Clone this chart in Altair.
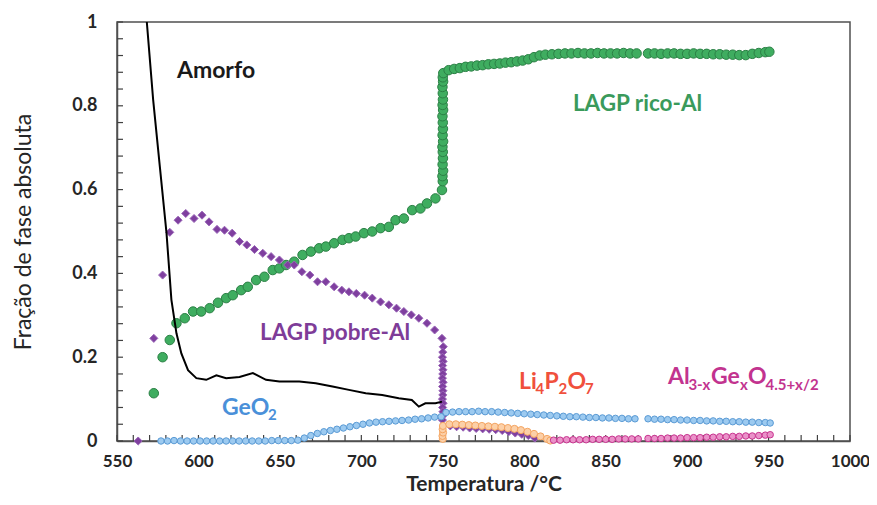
import altair as alt
import pandas as pd

# ---------------- data ----------------
amorfo_T = [568.2, 572.2, 576.3, 580.4, 583.4, 586.5, 589.5, 593.6, 598.7, 604.8, 611.0, 617.0,
            625.2, 633.4, 641.5, 649.7, 661.9, 672.0, 682.3, 692.4, 702.7, 712.8, 723.0, 731.0,
            735.3, 739.3, 745.5, 749.5]
amorfo_y = [1.005, 0.814, 0.655, 0.496, 0.337, 0.257, 0.209, 0.169, 0.150, 0.146, 0.157, 0.150,
            0.153, 0.162, 0.146, 0.142, 0.142, 0.138, 0.130, 0.122, 0.114, 0.110, 0.102, 0.098,
            0.082, 0.090, 0.090, 0.094]

rico_T = [572.6, 578.0, 582.4, 586.5, 591.6, 596.7, 601.7, 606.9, 612.0, 617.0, 621.1, 626.2,
          630.3, 635.4, 640.5, 645.6, 649.7, 653.8, 658.8, 663.9, 669.0, 674.1, 678.2, 683.3,
          688.4, 692.4, 696.5, 701.6, 706.7, 711.8, 716.9, 721.0, 726.1, 731.2, 736.3, 740.3,
          745.5, 749.5,
          750.0, 749.8, 750.2, 749.9, 750.1, 750.0, 749.8, 750.2, 749.9, 750.1, 750.0, 749.8,
          750.2, 749.9, 750.1, 750.0, 749.8, 750.2, 750.0, 750.3,
          753.6, 757.0, 760.5, 764.0, 767.5, 771.0, 774.5, 778.0, 781.5, 785.0, 788.5, 792.0,
          795.5, 799.0, 802.5, 806.0, 809.5, 813.0, 817.0, 821.0, 825.0, 829.0, 833.0, 837.0,
          841.0, 845.0, 849.0, 853.0, 857.0, 861.0, 865.0, 869.0,
          876.0, 880.0, 884.0, 888.0, 892.0, 896.0, 900.0, 904.0, 908.0, 912.0, 916.0, 920.0,
          924.0, 928.0, 932.0, 936.0, 940.0, 944.0, 948.0, 950.5]
rico_y = [0.114, 0.200, 0.241, 0.281, 0.293, 0.309, 0.309, 0.317, 0.330, 0.341, 0.348, 0.360,
          0.368, 0.384, 0.392, 0.408, 0.412, 0.420, 0.428, 0.444, 0.452, 0.460, 0.464, 0.472,
          0.480, 0.484, 0.488, 0.496, 0.500, 0.508, 0.511, 0.527, 0.531, 0.551, 0.555, 0.567,
          0.579, 0.599,
          0.620, 0.632, 0.645, 0.660, 0.675, 0.690, 0.702, 0.715, 0.730, 0.745, 0.760, 0.775,
          0.790, 0.802, 0.815, 0.830, 0.845, 0.858, 0.868, 0.878,
          0.885, 0.888, 0.890, 0.893, 0.894, 0.896, 0.897, 0.899, 0.900, 0.901, 0.903, 0.904,
          0.906, 0.908, 0.911, 0.916, 0.920, 0.922, 0.923, 0.924, 0.925, 0.925, 0.926, 0.925,
          0.925, 0.926, 0.925, 0.925, 0.925, 0.926, 0.925, 0.925,
          0.925, 0.925, 0.924, 0.925, 0.925, 0.924, 0.924, 0.925, 0.924, 0.924, 0.923, 0.923,
          0.922, 0.922, 0.921, 0.921, 0.924, 0.926, 0.928, 0.929]

pobre_T = [563.0, 572.6, 578.0, 582.4, 587.5, 592.2, 597.3, 602.2, 606.5, 611.4, 616.0, 620.7,
           625.2, 629.7, 634.4, 639.5, 644.6, 649.7, 654.8, 658.8, 663.5, 668.4, 673.1, 678.2,
           683.3, 688.0, 692.4, 696.9, 702.0, 706.7, 711.8, 716.9, 721.6, 726.1, 730.7, 735.3,
           740.3, 745.0, 749.5, 750.3,
           750.0, 749.8, 750.2, 749.9, 750.1, 750.0, 749.8, 750.2, 749.9, 750.1, 750.0, 749.8,
           750.2, 749.9, 750.1, 750.0, 749.8,
           754.6, 758.5, 762.5, 766.5, 770.5, 774.5, 778.5, 782.5, 786.5, 790.5, 794.5, 798.5,
           802.5, 806.5]
pobre_y = [0.000, 0.245, 0.396, 0.498, 0.527, 0.543, 0.531, 0.539, 0.523, 0.505, 0.503, 0.496,
           0.476, 0.468, 0.457, 0.448, 0.440, 0.432, 0.420, 0.420, 0.404, 0.396, 0.380, 0.380,
           0.368, 0.360, 0.356, 0.352, 0.348, 0.341, 0.332, 0.325, 0.317, 0.309, 0.301, 0.293,
           0.281, 0.265, 0.245, 0.225,
           0.212, 0.200, 0.190, 0.180, 0.170, 0.160, 0.150, 0.140, 0.130, 0.120, 0.110, 0.100,
           0.090, 0.080, 0.070, 0.060, 0.050,
           0.036, 0.034, 0.033, 0.031, 0.030, 0.029, 0.028, 0.027, 0.025, 0.022, 0.019, 0.016,
           0.013, 0.007]

geo2_T = [577, 581, 585, 589, 593, 597, 601, 605, 609, 613, 617, 621, 625, 629, 633, 637, 641,
          645, 649, 653, 657, 661, 665, 669, 673, 677, 681, 685, 689, 693, 697, 701, 705, 709,
          713, 717, 721, 725, 729, 733, 737, 741, 745, 749,
          752, 756, 760, 764, 768, 772, 776, 780, 784, 788, 792, 796, 800, 804, 808, 812, 816,
          820, 824, 828, 832, 836, 840, 844, 848, 852, 856, 860, 864, 868,
          876, 880, 884, 888, 892, 896, 900, 904, 908, 912, 916, 920, 924, 928, 932, 936, 940,
          944, 948, 951]
geo2_y = [0.000, 0.000, 0.001, 0.000, 0.000, 0.000, 0.000, 0.000, 0.000, 0.000, 0.000, 0.000,
          0.000, 0.000, 0.000, 0.000, 0.000, 0.001, 0.001, 0.001, 0.001, 0.002, 0.007, 0.013,
          0.018, 0.022, 0.025, 0.028, 0.031, 0.034, 0.037, 0.040, 0.043, 0.045, 0.046, 0.047,
          0.048, 0.049, 0.050, 0.052, 0.053, 0.055, 0.057, 0.058,
          0.068, 0.069, 0.070, 0.070, 0.070, 0.071, 0.070, 0.070, 0.069, 0.068, 0.067, 0.066,
          0.065, 0.064, 0.063, 0.062, 0.061, 0.060, 0.059, 0.058, 0.058, 0.057, 0.056, 0.056,
          0.055, 0.055, 0.054, 0.054, 0.053, 0.053,
          0.053, 0.052, 0.052, 0.051, 0.051, 0.050, 0.050, 0.049, 0.049, 0.048, 0.048, 0.047,
          0.047, 0.046, 0.046, 0.045, 0.045, 0.044, 0.044, 0.043]

li_T = [750.0, 749.8, 750.2, 749.9, 750.1,
        754.0, 758.0, 762.0, 766.0, 770.0, 774.0, 778.0, 782.0, 786.0, 790.0, 794.0, 798.0,
        802.0, 806.0, 810.0, 814.0, 816.0]
li_y = [0.005, 0.012, 0.020, 0.028, 0.036,
        0.040, 0.040, 0.039, 0.038, 0.037, 0.036, 0.035, 0.034, 0.033, 0.031, 0.029, 0.026,
        0.022, 0.017, 0.011, 0.005, 0.001]

al_T = [818, 822, 826, 830, 834, 838, 842, 846, 850, 854, 858, 862, 866, 870,
        876, 880, 884, 888, 892, 896, 900, 904, 908, 912, 916, 920, 924, 928, 932, 936, 940,
        944, 948, 951]
al_y = [0.002, 0.002, 0.003, 0.003, 0.003, 0.003, 0.004, 0.004, 0.004, 0.004, 0.005, 0.005,
        0.005, 0.005,
        0.006, 0.006, 0.006, 0.007, 0.007, 0.007, 0.008, 0.008, 0.008, 0.009, 0.009, 0.010,
        0.010, 0.011, 0.011, 0.012, 0.012, 0.013, 0.014, 0.015]

x_labels = [550, 600, 650, 700, 750, 800, 850, 900, 950, 1000]
y_labels = [0, 0.2, 0.4, 0.6, 0.8, 1]
x_minor = list(range(550, 1001, 10))
y_minor = [round(i * 0.04, 2) for i in range(26)]

# annotation pieces: text, x (°C), y (fraction), font size, colour
ann_text = ["Amorfo", "LAGP rico-Al", "LAGP pobre-Al",
            "GeO", "2",
            "Li", "4", "P", "2", "O", "7",
            "Al", "3-x", "Ge", "x", "O", "4.5+x/2"]
ann_T = [586.8, 829.9, 637.8,
         614.5, 642.7,
         796.8, 806.9, 812.4, 821.0, 826.6, 837.3,
         888.3, 900.8, 914.6, 932.5, 937.4, 948.1]
ann_y = [0.866, 0.788, 0.241,
         0.062, 0.050,
         0.124, 0.112, 0.124, 0.112, 0.124, 0.112,
         0.136, 0.122, 0.136, 0.122, 0.136, 0.122]
ann_size = [23, 22.5, 22.5,
            23, 15,
            23, 15, 23, 15, 23, 15,
            23, 15, 23, 15, 23, 15]
ann_color = ["#1a1a1a", "#3a9a5b", "#7e3c98",
             "#4a90d9", "#4a90d9",
             "#f0503c", "#f0503c", "#f0503c", "#f0503c", "#f0503c", "#f0503c",
             "#c2338f", "#c2338f", "#c2338f", "#c2338f", "#c2338f", "#c2338f"]

# ---------------- chart ----------------
W, H = 733, 419
FONT = "Lato"

xs = alt.Scale(domain=[550, 1000], nice=False, zero=False)
ys = alt.Scale(domain=[0, 1], nice=False, zero=True)

x_axis = alt.Axis(values=x_labels, title="Temperatura /°C", ticks=False, tickSize=0,
                  labelPadding=12, grid=False, titlePadding=4, format="d",
                  labelFlush=False, titleFontSize=21, labelFontSize=17)
y_axis = alt.Axis(values=y_labels, title="Fração de fase absoluta", ticks=False, tickSize=0,
                  labelPadding=20, grid=False, format=".1~f", titlePadding=36,
                  titleFontWeight="normal", titleFontSize=23, labelFlush=False,
                  labelFontSize=18)


def X(field="T"):
    return alt.X(f"{field}:Q", scale=xs, axis=x_axis)


def Y(field="y"):
    return alt.Y(f"{field}:Q", scale=ys, axis=y_axis)


def df(T, y):
    return pd.DataFrame({"T": T, "y": y})


base_pts = dict(filled=True, opacity=1, fillOpacity=1, strokeOpacity=1, strokeWidth=1)

geo2 = alt.Chart(df(geo2_T, geo2_y)).mark_point(
    shape="circle", size=42, fill="#9ccaf0", stroke="#5b9bd5", **base_pts
).encode(x=X(), y=Y())

al = alt.Chart(df(al_T, al_y)).mark_point(
    shape="circle", size=42, fill="#ea92c9", stroke="#c8348f", **base_pts
).encode(x=X(), y=Y())

li = alt.Chart(df(li_T, li_y)).mark_point(
    shape="circle", size=50, fill="#fcd0a8", stroke="#f4a460", **base_pts
).encode(x=X(), y=Y())

pobre = alt.Chart(df(pobre_T, pobre_y)).mark_point(
    shape="diamond", size=65, fill="#7f3f9f", stroke="#9a66b8", **base_pts
).encode(x=X(), y=Y())

rico = alt.Chart(df(rico_T, rico_y)).mark_point(
    shape="circle", size=90, fill="#3fad60", stroke="#2b8045", **base_pts
).encode(x=X(), y=Y())

amorfo = alt.Chart(df(amorfo_T, amorfo_y)).mark_line(
    color="black", strokeWidth=2, clip=True
).encode(x=X(), y=Y())

yticks = alt.Chart(pd.DataFrame({"v": y_minor})).mark_rule(
    color="#404040", strokeWidth=1.2
).encode(y=alt.Y("v:Q", scale=ys, axis=y_axis), x=alt.value(0), x2=alt.value(6))

xticks = alt.Chart(pd.DataFrame({"v": x_minor})).mark_rule(
    color="#404040", strokeWidth=1.2
).encode(x=alt.X("v:Q", scale=xs, axis=x_axis), y=alt.value(H), y2=alt.value(H - 6))

ann = alt.Chart(pd.DataFrame({"txt": ann_text, "T": ann_T, "y": ann_y,
                              "fs": ann_size, "col": ann_color})).mark_text(
    align="left", baseline="alphabetic", font=FONT, fontWeight="bold"
).encode(
    x=X(), y=Y(), text="txt:N",
    size=alt.Size("fs:Q", scale=None, legend=None),
    color=alt.Color("col:N", scale=None, legend=None),
)

chart = alt.layer(
    yticks, xticks, rico, pobre, li, geo2, al, amorfo, ann
).properties(
    width=W, height=H,
    autosize=alt.AutoSizeParams(type="none"),
    padding={"left": 109, "top": 14, "right": 19, "bottom": 56},
    background="white",
).configure_view(
    stroke="#505050", strokeWidth=1.5
).configure_axis(
    labelFont=FONT, labelFontWeight="bold", labelColor="#262626",
    titleFont=FONT, titleFontWeight="bold", titleColor="#262626",
    domainColor="#505050", domainWidth=1.5,
)

chart.save("out.html", embed_options={"renderer": "svg", "actions": False})
